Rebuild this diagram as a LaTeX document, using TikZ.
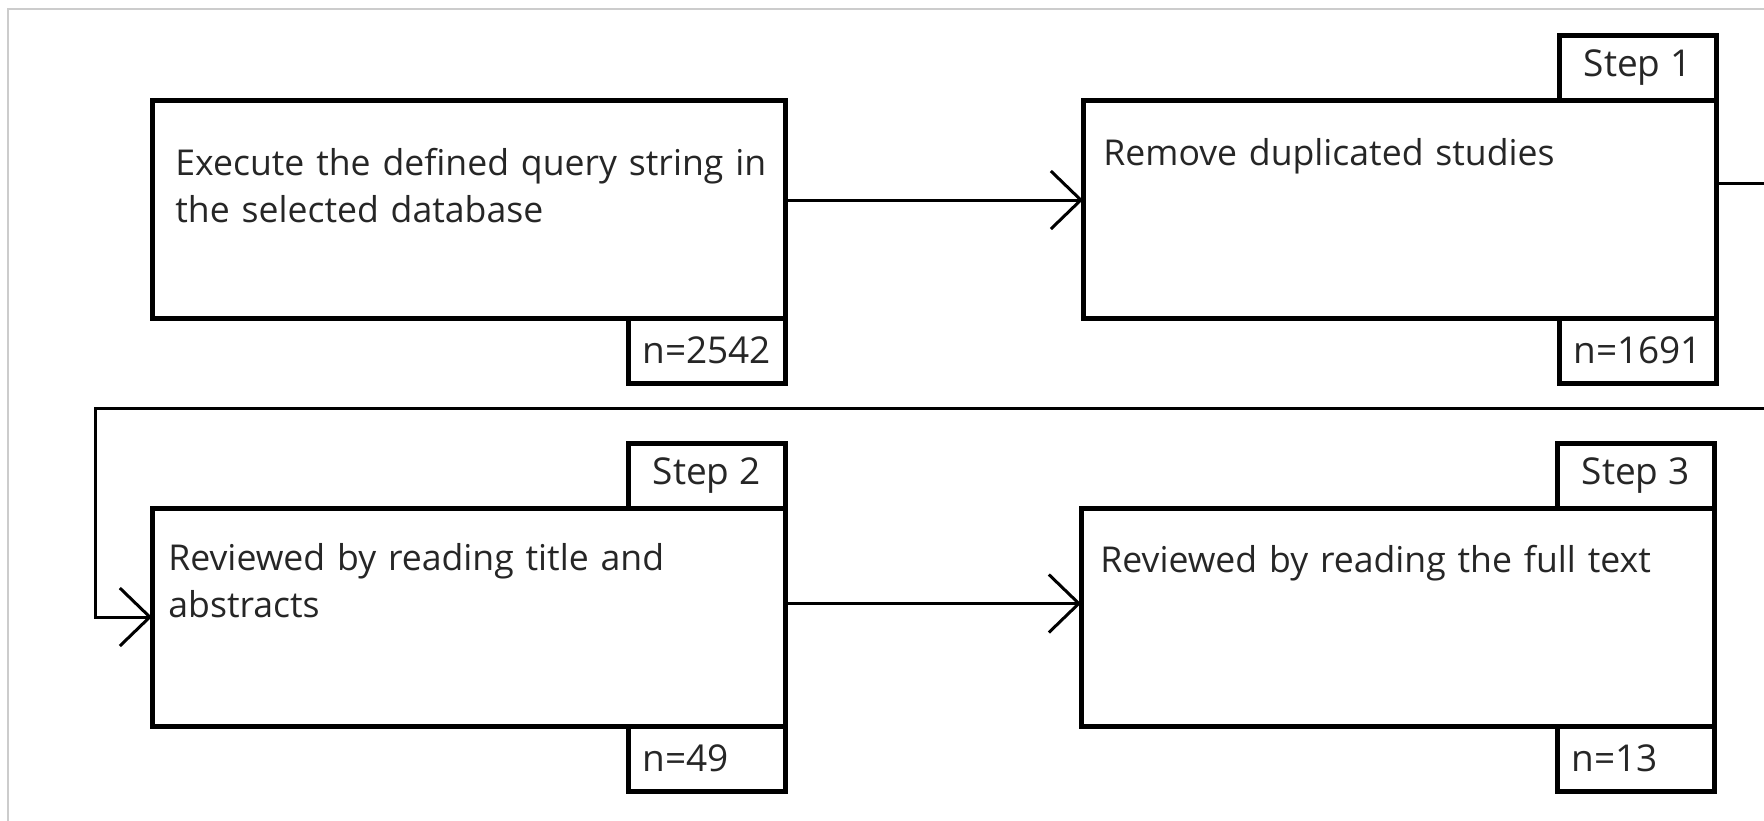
\documentclass[tikz,border=0pt]{standalone}
\usepackage{fontspec}
\setmainfont{Open Sans}
\usetikzlibrary{positioning,arrows.meta}

\begin{document}
\begin{tikzpicture}[
    stage/.style={rectangle, draw=black, line width=2.5pt, outer sep=0pt, inner sep=0pt,
        minimum width=316.5pt, minimum height=109pt},
    stagetext/.style={anchor=base west, inner sep=0pt, text=black!85, text width=305pt,
        align=left, font=\fontsize{17.8}{23.5}\selectfont},
    steptab/.style={rectangle, draw=black, line width=2.5pt, outer sep=0pt, inner sep=0pt,
        minimum width=78.5pt, minimum height=32.5pt, text=black!85,
        font=\fontsize{18.5}{20}\selectfont},
    counttab/.style={steptab, text width=64pt, inner xsep=7.25pt, align=left},
    flow/.style={line width=1.5pt, ->},
    >={Straight Barb[length=15pt, width=29pt, line width=1.5pt]}
]

\useasboundingbox (0,0) rectangle (882pt,-410pt);
\clip (0,0) rectangle (882pt,-410pt);
\draw[black!20, line width=0.75pt] (4pt,-4.5pt) rectangle (900pt,-430pt);

% the four stages
\node[stage] (query) at (234.25pt,-104.5pt) {};
\node[stage, right=149pt of query] (dedup) {};
\node[stage, below=95pt of query] (screen) {};
\node[stage, right=148pt of screen] (fulltext) {};

\node[stagetext] (query text) at ([xshift=11.5pt, yshift=-37.5pt]query.north west)
    {Execute the defined query string in\\the selected database};
\node[stagetext] (dedup text) at ([xshift=10pt, yshift=-32.5pt]dedup.north west)
    {Remove duplicated studies};
\node[stagetext] (screen text) at ([xshift=8pt, yshift=-31pt]screen.north west)
    {Reviewed by reading title and\\abstracts};
\node[stagetext] (fulltext text) at ([xshift=9.5pt, yshift=-32pt]fulltext.north west)
    {Reviewed by reading the full text};

% step and count tabs
\node[steptab, above left=0pt of dedup.north east] (step1) {Step 1};
\node[steptab, above left=0pt of screen.north east] (step2) {Step 2};
\node[steptab, above left=0pt of fulltext.north east] (step3) {Step 3};

\node[counttab, below left=0pt of query.south east] (n query) {n=2542};
\node[counttab, below left=0pt of dedup.south east] (n dedup) {n=1691};
\node[counttab, below left=0pt of screen.south east] (n screen) {n=49};
\node[counttab, below left=0pt of fulltext.south east] (n fulltext) {n=13};

% connectors
\coordinate (loopR) at (900pt,-204pt);
\coordinate (loopL) at (47.5pt,-204pt);

\draw[flow] ([yshift=4.5pt]query.east) -- ([yshift=4.5pt]dedup.west);
\draw[flow] ([yshift=13pt]dedup.east) -| (loopR) -- (loopL) |- (screen.west);
\draw[flow] ([yshift=6.75pt]screen.east) -- ([yshift=6.75pt]fulltext.west);

\end{tikzpicture}
\end{document}
